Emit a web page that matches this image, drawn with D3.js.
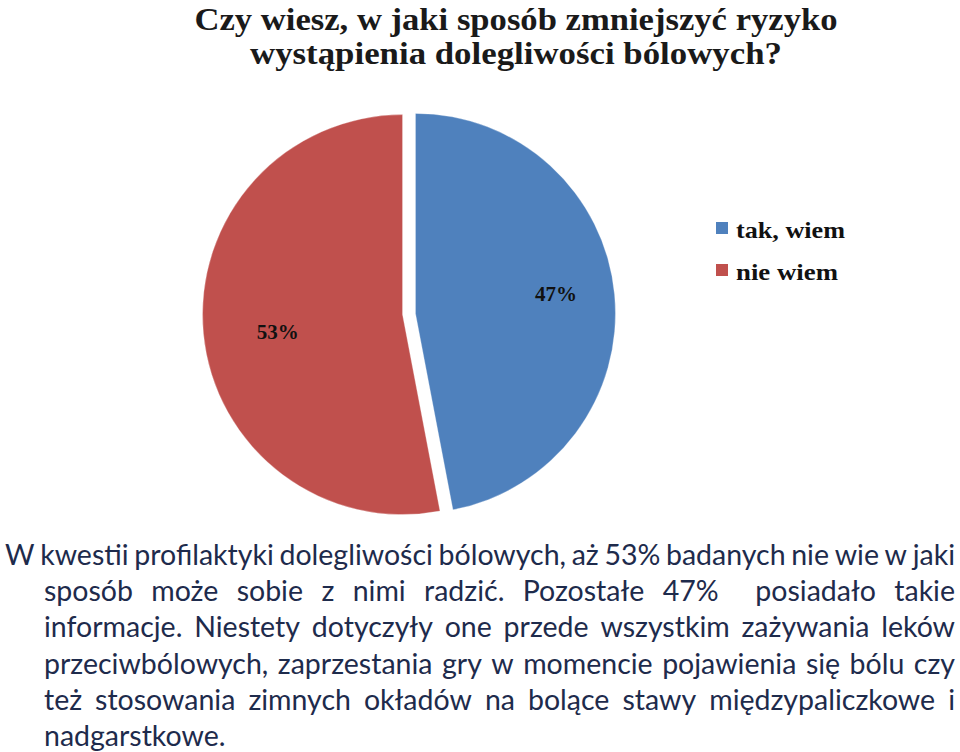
<!DOCTYPE html>
<html><head><meta charset="utf-8">
<script src="https://cdn.jsdelivr.net/npm/d3@7"></script>
<style>html,body{margin:0;padding:0;background:#fff;}svg{display:block;}</style>
</head><body>
<svg id="c" width="960" height="752"></svg>
<script>
const titleLines = ["Czy wiesz, w jaki sposób zmniejszyć ryzyko", "wystąpienia dolegliwości bólowych?"];
const categories = ["tak, wiem", "nie wiem"];
const values = [47, 53];
const valueLabels = ["47%", "53%"];
const colors = ["#4f81bd", "#c0504d"];
const paragraphLines = [
  "W kwestii profilaktyki dolegliwości bólowych, aż 53% badanych nie wie w jaki",
  "sposób może sobie z nimi radzić. Pozostałe 47%  posiadało takie",
  "informacje. Niestety dotyczyły one przede wszystkim zażywania leków",
  "przeciwbólowych, zaprzestania gry w momencie pojawienia się bólu czy",
  "też stosowania zimnych okładów na bolące stawy międzypaliczkowe i",
  "nadgarstkowe."
];

const svg = d3.select("#c");
const serif = "'Liberation Serif', 'DejaVu Serif', serif";

// Title
const titleW = [643, 532];
titleLines.forEach((t, i) => {
  svg.append("text").attr("x", 516).attr("y", 30 + i * 34)
    .attr("text-anchor", "middle").attr("font-family", serif)
    .attr("font-weight", "bold").attr("font-size", 31).attr("fill", "#1a1a1a")
    .attr("textLength", titleW[i]).attr("lengthAdjust", "spacingAndGlyphs")
    .text(t);
});

// Pie
const cx = 409, cy = 314, r = 200, explode = 6.5;
const labelR = [0.71, 0.63];
const pie = d3.pie().sort(null).value(d => d)(values);
const arc = d3.arc().innerRadius(0).outerRadius(r);
const g = svg.append("g").attr("transform", `translate(${cx},${cy})`);
pie.forEach((p, i) => {
  const mid = (p.startAngle + p.endAngle) / 2;
  const dx = Math.sin(mid) * explode, dy = -Math.cos(mid) * explode;
  g.append("path").attr("d", arc(p)).attr("fill", colors[i])
    .attr("transform", `translate(${dx},${dy})`)
    .attr("stroke", "#fff").attr("stroke-width", 0.6).attr("stroke-opacity", 0.5);
  const la = mid - 0.045, lr = r * labelR[i];
  g.append("text")
    .attr("x", dx + Math.sin(la) * lr).attr("y", dy - Math.cos(la) * lr + 7)
    .attr("text-anchor", "middle").attr("font-family", serif)
    .attr("font-weight", "bold").attr("font-size", 21).attr("fill", "#111")
    .text(valueLabels[i]);
});

// Legend
const leg = svg.append("g").attr("transform", "translate(716,222)");
categories.forEach((c, i) => {
  const gy = i * 42;
  leg.append("rect").attr("x", 0).attr("y", gy).attr("width", 12).attr("height", 12).attr("fill", colors[i]);
  leg.append("text").attr("x", 20).attr("y", gy + 16)
    .attr("font-family", serif).attr("font-weight", "bold").attr("font-size", 23).attr("fill", "#111")
    .attr("textLength", i === 0 ? 109 : 102).attr("lengthAdjust", "spacingAndGlyphs")
    .text(c);
});

// Paragraph (justified)
const pFont = "Lato, Roboto, sans-serif";
const pColor = "#1e2b4c";
const right = 955;
function layoutParagraph() {
  const pg = svg.append("g");
  const measure = (s, size) => {
    const t = pg.append("text").attr("font-family", pFont).attr("font-size", size)
      .style("white-space", "pre").text(s);
    const w = t.node().getComputedTextLength(); t.remove(); return w;
  };
  let pSize = 30;
  // shrink until every justified line fits with at least 70% of a natural space between words
  for (; pSize > 18; pSize -= 0.5) {
    const sp = measure("a a", pSize) - measure("aa", pSize);
    const ok = paragraphLines.every((line, i) => {
      if (i === paragraphLines.length - 1) return true;
      const x0 = i === 0 ? 5 : 44;
      const ws = line.split(" ");
      const tot = d3.sum(ws, w => w ? measure(w, pSize) : 0);
      return tot + (ws.length - 1) * sp * 0.7 <= right - x0;
    });
    if (ok) break;
  }
  const spaceW = measure("a a", pSize) - measure("aa", pSize);
  paragraphLines.forEach((line, i) => {
    const x0 = i === 0 ? 5 : 44;
    const y = 565 + i * 36.2;
    const words = line.split(" ");
    const widths = words.map(w => w ? measure(w, pSize) : 0);
    const last = i === paragraphLines.length - 1;
    const gap = last ? spaceW : (right - x0 - d3.sum(widths)) / (words.length - 1);
    let x = x0;
    words.forEach((w, k) => {
      if (w) pg.append("text").attr("x", x).attr("y", y)
        .attr("font-family", pFont).attr("font-size", pSize).attr("fill", pColor).text(w);
      x += widths[k] + gap;
    });
  });
}
(document.fonts && document.fonts.load ? document.fonts.load("30px Lato").then(() => document.fonts.ready) : Promise.resolve())
  .then(layoutParagraph, layoutParagraph);
</script>
</body></html>
